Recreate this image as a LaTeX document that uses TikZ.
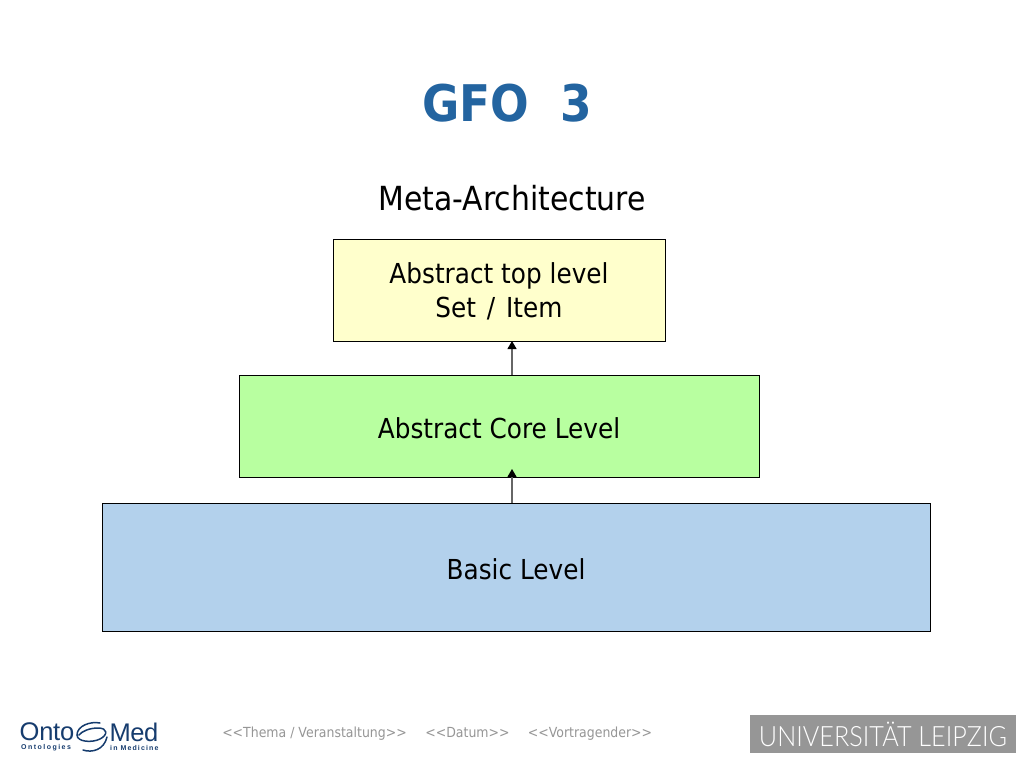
\documentclass[tikz,border=0pt]{standalone}
\usepackage{fontspec}
\setmainfont{DejaVu Sans}
\newfontfamily\bodyfont[FakeStretch=0.9]{DejaVu Sans}
\newfontfamily\logofont{Liberation Sans}
\newfontfamily\unifont[FakeStretch=0.9]{Lato Light}
\usetikzlibrary{arrows.meta}
\definecolor{titleblue}{RGB}{35,100,160}
\definecolor{boxyellow}{RGB}{255,255,204}
\definecolor{boxgreen}{RGB}{184,255,160}
\definecolor{boxblue}{RGB}{179,209,236}
\definecolor{footgray}{RGB}{150,150,150}
\definecolor{unigray}{RGB}{150,150,150}
\definecolor{logoblue}{RGB}{22,60,110}
\tikzset{
  x=1pt,y=-1pt,
  plain/.style={inner sep=0pt,anchor=center},
  levelbox/.style={draw=black,line width=0.8pt,anchor=north west,inner sep=0pt},
  bodytext/.style={plain,align=center,font=\bodyfont\fontsize{27.5}{34}\selectfont},
  foot/.style={inner sep=0pt,anchor=base,text=footgray,font=\bodyfont\fontsize{13.9}{17}\selectfont},
  liftarrow/.style={draw=black!60,line width=1.1pt,-{Triangle[length=8pt,width=9pt,black]}},
  swirl/.style={draw=logoblue,line width=1.5pt,line cap=round},
  logomain/.style={plain,anchor=west,text=logoblue,font=\logofont\fontsize{25.5}{26}\selectfont},
  logosub/.style={plain,anchor=west,text=logoblue,font=\logofont\bfseries\fontsize{7}{7}\selectfont},
}
\begin{document}
\begin{tikzpicture}
\useasboundingbox (0,0) rectangle (1024,768);
\fill[white] (0,0) rectangle (1024,768);
\node[plain,text=titleblue,font=\bodyfont\bfseries\fontsize{50.5}{60}\selectfont] (title) at (507.5,103) {GFO\ \ 3};
\node[bodytext,font=\bodyfont\fontsize{33.2}{40}\selectfont] (meta) at (512,198) {Meta-Architecture};
\node[levelbox,fill=boxyellow,minimum width=332pt,minimum height=102.5pt] (top) at (333,238.5) {};
\node[levelbox,fill=boxgreen,minimum width=520pt,minimum height=102pt] (core) at (239,375) {};
\node[levelbox,fill=boxblue,minimum width=828pt,minimum height=128pt] (basic) at (102,503) {};
\node[bodytext] (toplabel) at (499,291) {Abstract top level\\Set\ \hspace{3pt}/\ \hspace{3pt}Item};
\node[bodytext] (corelabel) at (499,428) {Abstract Core Level};
\node[bodytext] (basiclabel) at (516,569) {Basic Level};
\coordinate (tipA) at (512,341);
\coordinate (tipB) at (512,469);
\draw[liftarrow] (tipA |- core.north) -- (tipA);
\draw[liftarrow] (tipB |- basic.north) -- (tipB);
\node[foot] (f1) at (314.5,737) {<<Thema / Veranstaltung>>};
\node[foot] (f2) at (467.5,737) {<<Datum>>};
\node[foot] (f3) at (590,737) {<<Vortragender>>};
% OntoMed logo
\node[logomain] (onto) at (19.5,732) {\addfontfeature{LetterSpace=-1}Onto};
\node[logomain] (med) at (109.5,732) {\addfontfeature{LetterSpace=-2}Med};
\node[logosub] (ontosub) at (21,748) {\addfontfeature{LetterSpace=21}Ontologies};
\node[logosub] (medsub) at (110,748) {\addfontfeature{LetterSpace=16}in Medicine};
\path[swirl] (100,723) .. controls (90,721) and (77,726) .. (77,735) .. controls (77,742) and (92,743) .. (100,739) .. controls (108,735) and (108,728) .. (98,728) .. controls (90,728) and (82,731) .. (79,735);
\path[swirl] (83,750) .. controls (92,753) and (104,750) .. (107,737);
% Leipzig logo
\node[fill=unigray,anchor=north west,minimum width=266pt,minimum height=38pt,inner sep=0pt] (uni) at (750,715) {};
\node[plain,text=white,font=\unifont\fontsize{28}{28}\selectfont] (unitext) at (883,734.5) {UNIVERSITÄT LEIPZIG};
\end{tikzpicture}
\end{document}
